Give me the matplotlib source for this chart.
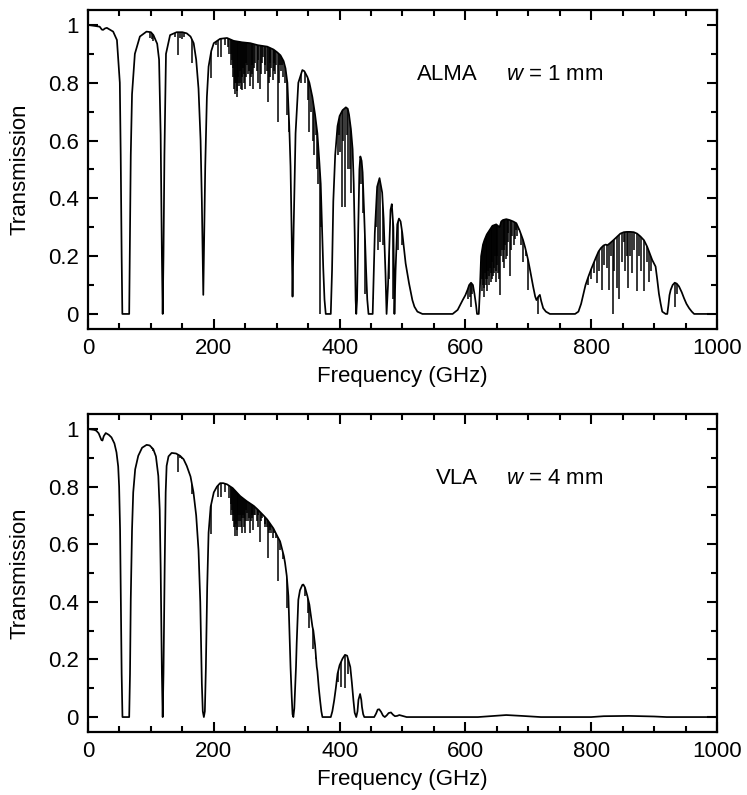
import numpy as np
import matplotlib
matplotlib.use("Agg")
import matplotlib.pyplot as plt
from matplotlib.ticker import MultipleLocator, FuncFormatter

plt.rcParams['font.family'] = ['Liberation Sans', 'DejaVu Sans']
plt.rcParams['mathtext.fontset'] = 'custom'
plt.rcParams['mathtext.it'] = 'Liberation Sans:italic'
plt.rcParams['mathtext.rm'] = 'Liberation Sans'

# ---- ALMA, w = 1 mm : smooth envelope of the transmission curve ----
alma_freq = [0, 10, 18.6, 22, 24, 27, 30, 40, 46, 50.6, 52, 53.5, 54.6, 65.5, 66.6, 68, 70, 74.5,
             82.5, 93, 100, 104, 110, 113, 115.5, 117.5, 118.75, 120, 121.5, 124, 130.5, 141, 150,
             157, 163, 168, 172, 175.7, 179, 181, 183.3, 185, 186.4, 189, 191.7, 196, 200, 210, 221,
             231.6, 245, 258, 270, 285, 295, 301, 306, 311, 314, 317, 320, 322, 324, 325.2, 327, 330,
             334.4, 340.8, 344, 348.8, 352, 356.8, 361, 364.7, 368, 370, 372, 374, 376, 378, 386,
             388, 390, 393, 396.7, 400, 404.7, 410, 413, 415, 418, 420.7, 422.5, 424, 425.5, 426.5,
             427.8, 429.7, 431.5, 433, 435, 436.6, 439, 442, 444, 446, 452.6, 456, 459.7, 463.5,
             467.7, 470, 473, 474.7, 477, 481, 483, 485.5, 487.2, 489, 491.7, 494.4, 497, 499.7, 502,
             505, 510.4, 515.7, 519, 523.7, 531.7, 579.7, 587.7, 595.7, 600, 603.7, 606, 609, 612,
             614.4, 617, 618.5, 621.3, 623, 625, 628, 630.4, 634, 638.4, 643, 649, 654.4, 657, 659.7,
             665, 670.4, 676, 681, 686, 691.7, 695, 699.7, 703, 707.7, 711, 713, 716, 718.4, 720.5,
             723.7, 728, 734.4, 774.4, 779.7, 784, 787.7, 791, 795.7, 800, 803.7, 807.5, 811.7,
             815.5, 819.7, 823, 826, 830, 835.7, 840, 846.4, 852, 857, 862, 867.7, 873, 878.4, 884,
             889, 893, 897, 902.4, 905, 907.7, 910.5, 913, 918.4, 921, 922.8, 924.5, 926.4, 929.5,
             932.8, 936, 939.7, 944, 947.7, 951.5, 955.7, 960, 963.7, 1000]
alma_trans = [1.0, 0.997, 0.994, 0.984, 0.983, 0.988, 0.99, 0.977, 0.948, 0.80, 0.55, 0.20, 0.0, 0.0,
              0.25, 0.55, 0.76, 0.90, 0.96, 0.977, 0.975, 0.965, 0.935, 0.88, 0.62, 0.2, 0.0, 0.2,
              0.55, 0.90, 0.965, 0.975, 0.975, 0.971, 0.96, 0.937, 0.88, 0.78, 0.6, 0.39, 0.066, 0.3,
              0.51, 0.75, 0.856, 0.91, 0.937, 0.952, 0.955, 0.945, 0.94, 0.937, 0.93, 0.925, 0.915,
              0.905, 0.895, 0.875, 0.85, 0.80, 0.65, 0.51, 0.25, 0.06, 0.30, 0.625, 0.80, 0.844, 0.84,
              0.82, 0.80, 0.75, 0.69, 0.625, 0.52, 0.45, 0.30, 0.16, 0.05, 0.0, 0.0, 0.15, 0.39, 0.55,
              0.65, 0.685, 0.705, 0.715, 0.71, 0.69, 0.64, 0.57, 0.45, 0.28, 0.05, 0.0, 0.05, 0.30,
              0.50, 0.545, 0.53, 0.49, 0.35, 0.16, 0.05, 0.0, 0.0, 0.28, 0.44, 0.47, 0.42, 0.33, 0.14,
              0.0, 0.10, 0.36, 0.38, 0.30, 0.0, 0.15, 0.31, 0.33, 0.32, 0.28, 0.235, 0.175, 0.106,
              0.048, 0.025, 0.008, 0.0, 0.0, 0.014, 0.048, 0.065, 0.085, 0.10, 0.108, 0.10, 0.07,
              0.03, 0.0, 0.0, 0.08, 0.20, 0.24, 0.256, 0.275, 0.29, 0.305, 0.31, 0.30, 0.32, 0.325,
              0.328, 0.325, 0.32, 0.314, 0.29, 0.256, 0.23, 0.187, 0.15, 0.095, 0.06, 0.048, 0.06,
              0.066, 0.045, 0.02, 0.008, 0.0, 0.0, 0.008, 0.035, 0.07, 0.10, 0.13, 0.155, 0.175,
              0.195, 0.216, 0.228, 0.237, 0.24, 0.238, 0.245, 0.256, 0.265, 0.278, 0.283, 0.284,
              0.284, 0.283, 0.278, 0.268, 0.255, 0.233, 0.21, 0.187, 0.164, 0.12, 0.07, 0.035, 0.008,
              0.0, 0.0, 0.03, 0.065, 0.083, 0.10, 0.108, 0.105, 0.095, 0.075, 0.054, 0.035, 0.02,
              0.008, 0.0, 0.0]

# narrow absorption lines (frequency, minimum transmission)
alma_line_freq = [98, 101, 104, 108, 110, 138, 142.6, 147, 150, 152, 165.9, 195.5, 203, 206, 211.6,
                  218, 222, 226.8, 229, 231, 233, 234.5, 236.4, 238, 240, 242, 244.3, 246, 247.5,
                  249.6, 252, 254, 257.6, 260, 262.9, 266, 268, 271, 273.5, 276, 279, 282, 284,
                  286.8, 289, 291, 293.7, 296, 299, 301.7, 305, 307, 310.7, 313, 317, 320,
                  224, 227.8, 230, 232, 235.5, 237, 239, 241, 243, 245, 248.5, 250.8, 253, 255.5,
                  259, 261.5, 264.5, 270, 275, 281, 287.8, 290, 295, 298, 303, 308.5,
                  338, 345, 350, 352, 354, 357.6, 360, 362, 364, 365.6, 368.5, 371,
                  395, 397, 399, 401, 403.3, 405, 408.6, 411, 413, 416, 418,
                  434, 437, 440, 442, 453.6, 458, 461, 465, 469.4, 472, 479, 484.2, 490, 493, 498.6,
                  506.6, 604, 607, 609, 611, 626, 628, 630, 632, 634, 636, 638, 640, 642, 644, 646,
                  648, 650, 652, 655, 658, 661, 663, 666, 668, 670.6, 674, 677, 680, 684.9, 688, 692,
                  627, 629, 631, 633, 635, 637, 639, 641, 643, 645, 647, 649, 651, 653, 656.5, 659.5,
                  662, 664.5, 667, 672, 678.5, 682,
                  696, 700, 715.4, 795, 800, 805, 809, 813, 817, 821, 825, 829, 831, 834, 837, 840.5,
                  845, 849, 852, 854, 857, 859, 862, 865, 868, 873, 876, 880, 883.6, 888, 891.5, 895,
                  932.6, 936]
alma_line_low = [0.955, 0.95, 0.945, 0.955, 0.95, 0.96, 0.896, 0.955, 0.95, 0.958, 0.867, 0.818, 0.93,
                 0.89, 0.89, 0.93, 0.925, 0.90, 0.88, 0.85, 0.80, 0.76, 0.75, 0.82, 0.79, 0.80, 0.775,
                 0.85, 0.80, 0.78, 0.87, 0.83, 0.79, 0.86, 0.78, 0.87, 0.84, 0.88, 0.78, 0.87, 0.89,
                 0.86, 0.84, 0.735, 0.87, 0.85, 0.81, 0.87, 0.86, 0.665, 0.86, 0.84, 0.82, 0.80, 0.69,
                 0.63,
                 0.90, 0.86, 0.82, 0.78, 0.80, 0.77, 0.80, 0.84, 0.78, 0.82, 0.83, 0.82, 0.86, 0.84,
                 0.82, 0.83, 0.85, 0.80, 0.83, 0.83, 0.80, 0.82, 0.84, 0.83, 0.80, 0.86,
                 0.80, 0.80, 0.74, 0.63, 0.70, 0.60, 0.55, 0.62, 0.50, 0.45, 0.0, 0.30,
                 0.60, 0.55, 0.62, 0.56, 0.37, 0.60, 0.37, 0.62, 0.50, 0.50, 0.42,
                 0.45, 0.35, 0.07, 0.18, 0.05, 0.30, 0.22, 0.25, 0.24, 0.20, 0.12, 0.05, 0.20, 0.22,
                 0.24, 0.17, 0.05, 0.06, 0.025, 0.07, 0.08, 0.10, 0.06, 0.12, 0.08, 0.15, 0.10, 0.14,
                 0.12, 0.13, 0.16, 0.11, 0.20, 0.14, 0.066, 0.22, 0.16, 0.24, 0.20, 0.28, 0.13, 0.27,
                 0.24, 0.29, 0.29, 0.24, 0.18,
                 0.12, 0.09, 0.14, 0.10, 0.12, 0.13, 0.16, 0.11, 0.18, 0.14, 0.20, 0.15, 0.17, 0.12,
                 0.20, 0.18, 0.22, 0.19, 0.25, 0.22, 0.26, 0.27,
                 0.20, 0.083, 0.0, 0.10, 0.12, 0.14, 0.106, 0.15, 0.083,
                 0.17, 0.16, 0.083, 0.20, 0.0, 0.15, 0.09, 0.05, 0.18, 0.25, 0.15, 0.20, 0.09, 0.20,
                 0.14, 0.22, 0.08, 0.20, 0.15, 0.08, 0.18, 0.11, 0.15, 0.025, 0.07]

# ---- VLA, w = 4 mm ----
vla_freq = [0, 10, 13.3, 17, 21.3, 23, 25, 28.2, 33, 37.3, 42, 45.3, 48, 49.5, 51, 52.2, 53.5, 54.8,
            65.5, 66.8, 68, 70, 71.9, 75, 79.9, 86, 93.2, 98, 103.8, 108, 111.8, 114, 115.5, 117.5,
            118.75, 120, 121.9, 123.5, 125, 128, 133, 140, 146.4, 152, 157, 163, 167.7, 172, 175.7,
            178.5, 181, 182.5, 184.2, 185.8, 187.4, 189.5, 191.7, 195, 200, 205, 210, 215, 221, 230,
            242, 252, 263.6, 270, 279, 284.9, 290, 294.8, 301, 305.4, 309, 311.5, 313.3, 316, 318.6,
            321, 322, 323.9, 325.2, 326.5, 328, 330.7, 331.8, 334.4, 337, 340.8, 342.4, 345, 348.8,
            352, 356.8, 358.3, 361, 363.7, 364.7, 367, 369, 371, 372.7, 386, 388.5, 391.4, 394,
            396.7, 400, 404.7, 408.6, 412, 415, 417, 419.5, 422, 424, 426.5, 428.5, 430, 432.6,
            434.5, 435.6, 437.5, 439.3, 455, 458, 460.6, 463, 466, 469, 471.9, 475, 478, 481.7, 485,
            488, 491.5, 495, 500, 506.6, 620, 640, 665, 690, 720, 800, 820, 860, 900, 920, 1000]
vla_trans = [1.0, 0.997, 0.994, 0.985, 0.962, 0.96, 0.975, 0.986, 0.98, 0.971, 0.95, 0.919, 0.87,
             0.80, 0.65, 0.41, 0.15, 0.0, 0.0, 0.15, 0.41, 0.65, 0.78, 0.86, 0.907, 0.935, 0.945,
             0.943, 0.93, 0.905, 0.837, 0.72, 0.52, 0.15, 0.0, 0.15, 0.52, 0.78, 0.872, 0.905, 0.917,
             0.915, 0.907, 0.895, 0.872, 0.835, 0.78, 0.70, 0.58, 0.40, 0.116, 0.02, 0.0, 0.02, 0.17,
             0.45, 0.64, 0.73, 0.78, 0.80, 0.812, 0.812, 0.808, 0.795, 0.767, 0.75, 0.733, 0.72,
             0.70, 0.686, 0.67, 0.655, 0.628, 0.61, 0.58, 0.558, 0.535, 0.49, 0.42, 0.25, 0.174,
             0.07, 0.01, 0.0, 0.03, 0.174, 0.257, 0.407, 0.44, 0.459, 0.46, 0.45, 0.42, 0.39, 0.314,
             0.30, 0.25, 0.174, 0.16, 0.10, 0.058, 0.02, 0.0, 0.0, 0.02, 0.058, 0.10, 0.15, 0.18,
             0.203, 0.216, 0.213, 0.19, 0.174, 0.12, 0.058, 0.015, 0.0, 0.02, 0.06, 0.08, 0.06,
             0.035, 0.01, 0.0, 0.0, 0.012, 0.026, 0.027, 0.018, 0.005, 0.0, 0.006, 0.014, 0.016,
             0.008, 0.003, 0.004, 0.007, 0.004, 0.0, 0.0, 0.003, 0.007, 0.004, 0.0, 0.0, 0.003,
             0.004, 0.002, 0.0, 0.0]

vla_line_freq = [101, 104, 108, 142.6, 147, 150, 165.9, 195.5, 206, 211.6, 218, 226.8, 229, 231, 233,
                 234.5, 236.4, 238, 240, 242, 244.3, 246, 247.5, 249.6, 252, 254, 257.6, 260, 262.9,
                 266, 268, 271, 273.5, 276, 279, 282, 284, 286.8, 289, 291, 293.7, 296, 299, 301.7,
                 305, 310, 317, 345, 350, 352, 357.6, 362, 398, 403, 408.6, 413,
                 224, 227.8, 230, 232, 235.5, 237, 239, 241, 243, 245, 248.5, 250.8, 253, 255.5,
                 259, 261.5, 264.5, 270, 275, 281, 287.8, 290]
vla_line_low = [0.93, 0.925, 0.93, 0.85, 0.90, 0.895, 0.773, 0.634, 0.763, 0.763, 0.78, 0.74, 0.72,
                0.70, 0.66, 0.63, 0.628, 0.70, 0.66, 0.68, 0.64, 0.70, 0.66, 0.64, 0.72, 0.68, 0.64,
                0.70, 0.65, 0.70, 0.68, 0.70, 0.607, 0.69, 0.70, 0.67, 0.66, 0.553, 0.66, 0.64, 0.62,
                0.64, 0.62, 0.471, 0.58, 0.55, 0.38, 0.42, 0.36, 0.31, 0.235, 0.20, 0.12, 0.106,
                0.10, 0.15,
                0.76, 0.70, 0.68, 0.66, 0.67, 0.65, 0.68, 0.70, 0.66, 0.69, 0.69, 0.68, 0.71, 0.69,
                0.68, 0.69, 0.70, 0.66, 0.68, 0.66, 0.64, 0.65]

panels = [
    (alma_freq, alma_trans, alma_line_freq, alma_line_low, 'ALMA', r'$w$ = 1 mm'),
    (vla_freq, vla_trans, vla_line_freq, vla_line_low, 'VLA', r'$w$ = 4 mm'),
]

fig = plt.figure(figsize=(7.47, 7.95), dpi=100)
ax_top = fig.add_axes([0.1178, 0.5862, 0.8420, 0.4013])
ax_bot = fig.add_axes([0.1178, 0.0792, 0.8420, 0.4000])

for ax, (freq, trans, lf, ll, site, wtxt) in zip([ax_top, ax_bot], panels):
    ax.plot(freq, trans, color='black', lw=1.25)
    # invisible area under the curve, used to clip the absorption lines
    area = ax.fill_between(freq, -0.2, trans, facecolor='none', edgecolor='none', lw=0)
    lines = ax.vlines(lf, ll, 1.2, color='black', lw=1.1)
    lines.set_clip_path(area.get_paths()[0], ax.transData)

    ax.set_xlim(0, 1000)
    ax.set_ylim(-0.052, 1.052)
    ax.xaxis.set_major_locator(MultipleLocator(200))
    ax.xaxis.set_minor_locator(MultipleLocator(50))
    ax.yaxis.set_major_locator(MultipleLocator(0.2))
    ax.yaxis.set_minor_locator(MultipleLocator(0.1))
    ax.yaxis.set_major_formatter(FuncFormatter(lambda v, p: '%g' % round(v, 2)))
    ax.tick_params(which='both', direction='in', top=True, right=True, width=1.5,
                   labelsize=16, pad=6.5)
    ax.tick_params(which='major', length=7.5)
    ax.tick_params(which='minor', length=4)
    for sp in ax.spines.values():
        sp.set_linewidth(1.6)

    ax.set_xlabel('Frequency (GHz)', fontsize=16, labelpad=5)
    ax.set_ylabel('Transmission', fontsize=16, labelpad=13)

    ax.text(620, 0.827, site, fontsize=16, ha='right', va='center')
    ax.text(665, 0.827, wtxt, fontsize=16, ha='left', va='center')

fig.savefig('out.png', dpi=100)
